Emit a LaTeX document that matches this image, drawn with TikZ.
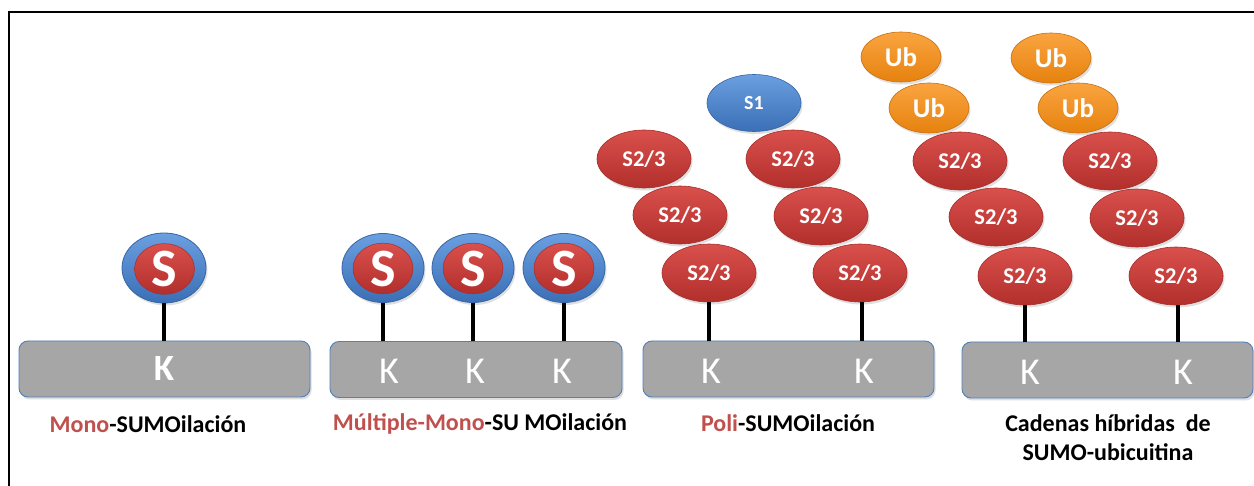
\documentclass[tikz,border=0pt]{standalone}
\usepackage{fontspec}
\setmainfont{Carlito}
\usetikzlibrary{shapes.geometric,shadows}
\definecolor{labred}{HTML}{C0504D}
\definecolor{boxgray}{HTML}{A6A6A6}
\definecolor{boxblue}{HTML}{4F81BD}
\definecolor{redtop}{HTML}{D9504C}
\definecolor{redbot}{HTML}{B22F2C}
\definecolor{redline}{HTML}{A52F2C}
\definecolor{bluetop}{HTML}{6A9FE0}
\definecolor{bluebot}{HTML}{3B6FB6}
\definecolor{blueline}{HTML}{3765A6}
\definecolor{orgtop}{HTML}{FAA440}
\definecolor{orgbot}{HTML}{E6820E}
\definecolor{orgline}{HTML}{C9700E}
\begin{document}
\begin{tikzpicture}[x=1pt,y=-1pt,
  shad/.style={drop shadow={opacity=0.25,shadow xshift=1.5pt,shadow yshift=-2.5pt}},
  protbox/.style={draw=boxblue,line width=0.9pt,fill=boxgray,rounded corners=9pt,
    minimum width=291pt,minimum height=56pt,inner sep=0pt,shad},
  kreg/.style={text=white,font=\fontsize{38}{38}\selectfont,inner sep=0pt},
  kbold/.style={text=white,font=\fontsize{37}{37}\selectfont\bfseries,inner sep=0pt},
  sumo/.style={ellipse,inner sep=0pt,minimum width=94pt,minimum height=58pt,
    shading=axis,top color=redtop,bottom color=redbot,draw=redline,line width=0.6pt,
    text=white,font=\fontsize{22.5}{22.5}\selectfont\bfseries,shad},
  sone/.style={ellipse,inner sep=0pt,minimum width=94pt,minimum height=57pt,
    shading=axis,top color=bluetop,bottom color=bluebot,draw=blueline,line width=0.6pt,
    text=white,font=\fontsize{20}{20}\selectfont\bfseries,shad},
  ubq/.style={ellipse,inner sep=0pt,minimum width=80pt,minimum height=50pt,
    shading=axis,top color=orgtop,bottom color=orgbot,draw=orgline,line width=0.6pt,
    text=white,font=\fontsize{27}{27}\selectfont\bfseries,shad},
  souter/.style={ellipse,inner sep=0pt,minimum width=84pt,minimum height=70pt,
    shading=axis,top color=bluetop,bottom color=bluebot,draw=blueline,line width=0.8pt,shad},
  sinner/.style={ellipse,inner sep=0pt,minimum width=60pt,minimum height=46pt,
    shading=axis,top color=redtop,bottom color=redbot,draw=redline,line width=0.5pt,
    text=white,font=\fontsize{54}{54}\selectfont\bfseries},
  stick/.style={line width=4pt},
  lab/.style={font=\fontsize{24}{24}\selectfont\bfseries,inner sep=0pt}
]
\useasboundingbox (0,0) rectangle (1254,486);
\fill[white] (0,0) rectangle (1254,486);
\draw[line width=2.6pt] (9,487) -- (9,12) -- (1256,12);

% boxes
\node[protbox] (box1) at (164.5,369) {};
\node[protbox,minimum width=292pt] (box2) at (476,369.5) {};
\node[protbox] (box3) at (788.5,369) {};
\node[protbox] (box4) at (1107.5,370) {};

% K labels
\node[kbold] (k1) at (164,369) {K};
\node[kreg] (k2a) at (389,371) {K};
\node[kreg] (k2b) at (475,371) {K};
\node[kreg] (k2c) at (562,371) {K};
\node[kreg] (k3a) at (711,371) {K};
\node[kreg] (k3b) at (864,371) {K};
\node[kreg] (k4a) at (1030,372) {K};
\node[kreg] (k4b) at (1183,372) {K};

% mono
\node[souter] (m1) at (164,268) {};
\node[sinner] (m1s) at (164.5,269) {S};
% multiple mono
\node[souter,minimum width=82pt,minimum height=69pt] (mm1) at (383,268) {};
\node[sinner] (mm1s) at (383,268.5) {S};
\node[souter,minimum width=82pt,minimum height=69pt] (mm2) at (473,268) {};
\node[sinner] (mm2s) at (473,268.5) {S};
\node[souter,minimum width=82pt,minimum height=69pt] (mm3) at (564,268) {};
\node[sinner] (mm3s) at (564,268.5) {S};

% poly chain 1
\node[sumo] (p1a) at (644,159) {S2/3};
\node[sumo] (p1b) at (680,215) {S2/3};
\node[sumo] (p1c) at (709,273) {S2/3};
% poly chain 2
\node[sone] (p2s1) at (754,103) {S1};
\node[sumo] (p2a) at (793,159) {S2/3};
\node[sumo] (p2b) at (821,216) {S2/3};
\node[sumo] (p2c) at (860,273) {S2/3};
% hybrid chain 1
\node[ubq] (h1u1) at (901,57) {Ub};
\node[ubq] (h1u2) at (929,108) {Ub};
\node[sumo] (h1a) at (960,161) {S2/3};
\node[sumo] (h1b) at (996,217) {S2/3};
\node[sumo] (h1c) at (1025,276) {S2/3};
% hybrid chain 2
\node[ubq] (h2u1) at (1051,58) {Ub};
\node[ubq] (h2u2) at (1078,108) {Ub};
\node[sumo] (h2a) at (1110,161) {S2/3};
\node[sumo] (h2b) at (1137,218) {S2/3};
\node[sumo] (h2c) at (1176,276) {S2/3};

% sticks
\draw[stick] (m1.south) -- (m1.south |- box1.north);
\draw[stick] (mm1.south) -- (mm1.south |- box2.north);
\draw[stick] (mm2.south) -- (mm2.south |- box2.north);
\draw[stick] (mm3.south) -- (mm3.south |- box2.north);
\draw[stick] (p1c.south) -- (p1c.south |- box3.north);
\draw[stick] ([xshift=2pt]p2c.south) -- ([xshift=2pt]p2c.south |- box3.north);
\draw[stick] (h1c.south) -- (h1c.south |- box4.north);
\draw[stick] ([xshift=2pt]h2c.south) -- ([xshift=2pt]h2c.south |- box4.north);

% labels
\node[lab] (l1) at (148,424) {\textcolor{labred}{Mono}-SUMOilación};
\node[lab] (l2) at (480,424) {\textcolor{labred}{Múltiple-Mono}-SU MOilación};
\node[lab] (l3) at (788,423) {\textcolor{labred}{Poli}-SUMOilación};
\node[lab,align=center,font=\fontsize{24}{29}\selectfont\bfseries] (l4) at (1108,437.5) {Cadenas híbridas\ \ de\\SUMO-ubicuitina};
\end{tikzpicture}
\end{document}
